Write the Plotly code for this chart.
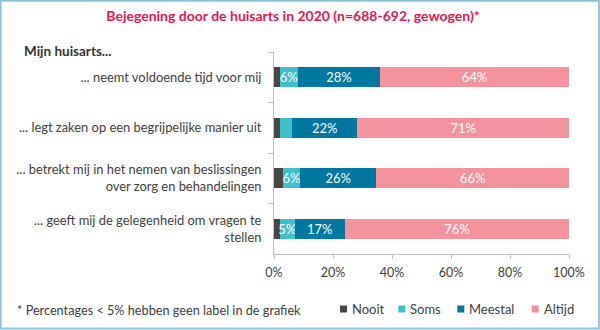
import plotly.graph_objects as go

# Survey answers per statement (percent, weighted)
statements = [
    "... neemt voldoende tijd voor mij",
    "... legt zaken op een begrijpelijke manier uit",
    "... betrekt mij in het nemen van beslissingen<br>over zorg en behandelingen",
    "... geeft mij de gelegenheid om vragen te<br>stellen",
]
nooit = [2, 2, 3, 2]
soms = [6, 4, 6, 5]
meestal = [28, 22, 26, 17]
altijd = [64, 71, 66, 76]

series_names = ["Nooit", "Soms", "Meestal", "Altijd"]
series_values = [nooit, soms, meestal, altijd]
series_colors = ["#4B4546", "#3EBFCC", "#0077A0", "#F4939D"]

x_ticks = [0, 20, 40, 60, 80, 100]

FONT = "Lato"
TEXT_COLOR = "#404040"
W, H = 600, 330
L, R, T, B = 274, 31, 52, 76


def px_x(px):
    return (px - L) / (W - L - R)


def px_y(py):
    return (H - B - py) / (H - T - B)


fig = go.Figure()
for name, vals, col in zip(series_names, series_values, series_colors):
    fig.add_trace(go.Bar(
        y=statements,
        x=vals,
        name=name,
        orientation="h",
        marker=dict(color=col, line=dict(width=0)),
        text=[f"{v}%" if v >= 5 else "" for v in vals],
        textposition="inside",
        insidetextanchor="middle",
        textangle=0,
        constraintext="none",
        textfont=dict(family=FONT, size=13, color="white"),
        showlegend=False,
        hoverinfo="skip",
    ))

# Legend drawn as small squares with labels
legend_pos = [340, 398.3, 457.3, 531.7]
legend_y = 309
for name, col, lx in zip(series_names, series_colors, legend_pos):
    fig.add_shape(type="rect", xref="paper", yref="paper",
                  x0=px_x(lx), x1=px_x(lx + 7),
                  y0=px_y(legend_y + 3.5), y1=px_y(legend_y - 3.5),
                  fillcolor=col, line=dict(width=0))
    fig.add_annotation(text=name, xref="paper", yref="paper",
                       x=px_x(lx + 10), y=px_y(legend_y),
                       xanchor="left", yanchor="middle", showarrow=False,
                       font=dict(family=FONT, size=13, color=TEXT_COLOR))

# Section heading and footnote
fig.add_annotation(text="<b>Mijn huisarts...</b>", xref="paper", yref="paper",
                   x=px_x(22), y=px_y(50.5), xanchor="left", yanchor="middle",
                   showarrow=False,
                   font=dict(family=FONT, size=13.5, color="#333333"))
fig.add_annotation(text="* Percentages < 5% hebben geen label in de grafiek",
                   xref="paper", yref="paper",
                   x=px_x(15), y=px_y(310), xanchor="left", yanchor="middle",
                   showarrow=False,
                   font=dict(family=FONT, size=12.7, color=TEXT_COLOR))

# Frame around the chart
fig.add_shape(type="rect", xref="paper", yref="paper",
              x0=px_x(0.8), x1=px_x(599), y0=px_y(328.5), y1=px_y(0.8),
              line=dict(color="#8EC4DA", width=1.8), fillcolor="rgba(0,0,0,0)")

fig.update_layout(
    width=W, height=H,
    margin=dict(l=L, r=R, t=T, b=B),
    paper_bgcolor="white", plot_bgcolor="white",
    barmode="stack", barnorm="percent", bargap=0.6,
    title=dict(
        text="<b>Bejegening door de huisarts in 2020 (n=688-692, gewogen)*</b>",
        x=293 / W, xanchor="center", y=1 - 16.5 / H, yanchor="middle",
        font=dict(family=FONT, size=14, color="#E5174F"),
    ),
    xaxis=dict(
        range=[0, 100], tickvals=x_ticks,
        ticktext=[f"{v}%" for v in x_ticks],
        showgrid=False, zeroline=False,
        showline=True, linecolor="#BFBFBF", linewidth=1,
        ticks="outside", ticklen=4, tickcolor="#BFBFBF",
        tickfont=dict(family=FONT, size=12.5, color=TEXT_COLOR),
        ticklabelstandoff=3,
        fixedrange=True,
    ),
    yaxis=dict(
        autorange="reversed",
        showgrid=False,
        showline=True, linecolor="#BFBFBF", linewidth=1,
        ticks="outside", ticklen=5, tickcolor="#BFBFBF", tickson="boundaries",
        tickfont=dict(family=FONT, size=12.9, color=TEXT_COLOR),
        ticklabelstandoff=9,
        fixedrange=True,
    ),
    font=dict(family=FONT, color=TEXT_COLOR),
)

fig.write_html("out.html")
